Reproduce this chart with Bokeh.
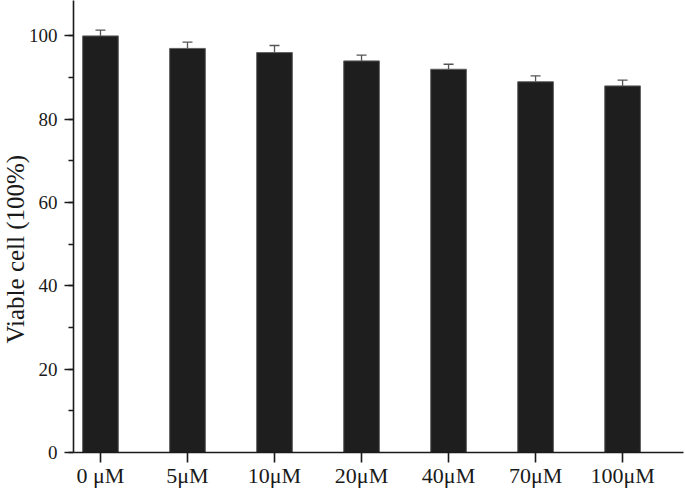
from bokeh.plotting import figure
from bokeh.models import (Range1d, FixedTicker, SingleIntervalTicker, Whisker, TeeHead,
                          ColumnDataSource, Title)
from bokeh.embed import file_html
from bokeh.resources import INLINE

categories = ["0 μM", "5μM", "10μM", "20μM", "40μM", "70μM", "100μM"]
viability = [100.0, 97.0, 96.0, 94.0, 92.0, 89.0, 88.0]
errors = [1.4, 1.5, 1.7, 1.4, 1.2, 1.4, 1.4]

FONT = "Liberation Serif"

xs = list(range(len(categories)))
src = ColumnDataSource(dict(
    x=xs, top=viability,
    upper=[v + e for v, e in zip(viability, errors)],
))

p = figure(width=685, height=493, output_backend="svg", toolbar_location=None,
           x_range=Range1d(-0.31, 6.70), y_range=Range1d(0, 108.5),
           min_border_left=73, min_border_right=2, min_border_top=0, min_border_bottom=41)
p.outline_line_color = None
p.xgrid.grid_line_color = None
p.ygrid.grid_line_color = None
p.background_fill_color = "white"
p.border_fill_color = "white"

p.vbar(x="x", top="top", bottom=0, width=0.41, source=src,
       fill_color="#1e1e1e", line_color="#606060", line_width=1)

w = Whisker(base="x", upper="upper", lower="top", source=src,
            line_color="#555555", line_width=1.3,
            upper_head=TeeHead(size=10, line_color="#555555", line_width=1.3),
            lower_head=None)
p.add_layout(w)

xa = p.xaxis[0]
xa.ticker = FixedTicker(ticks=xs)
xa.major_label_overrides = {i: c for i, c in enumerate(categories)}
xa.major_tick_out = 10
xa.major_tick_in = 0
xa.minor_tick_out = 0
xa.minor_tick_in = 0
xa.major_label_standoff = 0
xa.major_label_text_font = FONT
xa.major_label_text_font_size = "22px"
xa.major_label_text_color = "#1a1a1a"
xa.axis_line_width = 1.6
xa.axis_line_color = "#1a1a1a"
xa.major_tick_line_width = 1.6
xa.major_tick_line_color = "#1a1a1a"

ya = p.yaxis[0]
ya.ticker = SingleIntervalTicker(interval=20, num_minor_ticks=2)
ya.major_tick_out = 9
ya.major_tick_in = 0
ya.minor_tick_out = 5
ya.minor_tick_in = 0
ya.major_label_standoff = 7
ya.major_label_text_font = FONT
ya.major_label_text_font_size = "19px"
ya.major_label_text_color = "#1a1a1a"
ya.axis_line_width = 1.6
ya.axis_line_color = "#1a1a1a"
ya.major_tick_line_width = 1.6
ya.major_tick_line_color = "#1a1a1a"
ya.minor_tick_line_width = 1.6
ya.minor_tick_line_color = "#1a1a1a"

t = Title(text="Viable cell (100%)", align="left", offset=109, standoff=-7,
          text_font=FONT, text_font_size="25px", text_font_style="normal",
          text_line_height=0.8, text_color="#1a1a1a")
p.add_layout(t, "left")

open("out.html", "w").write(file_html(p, INLINE))
